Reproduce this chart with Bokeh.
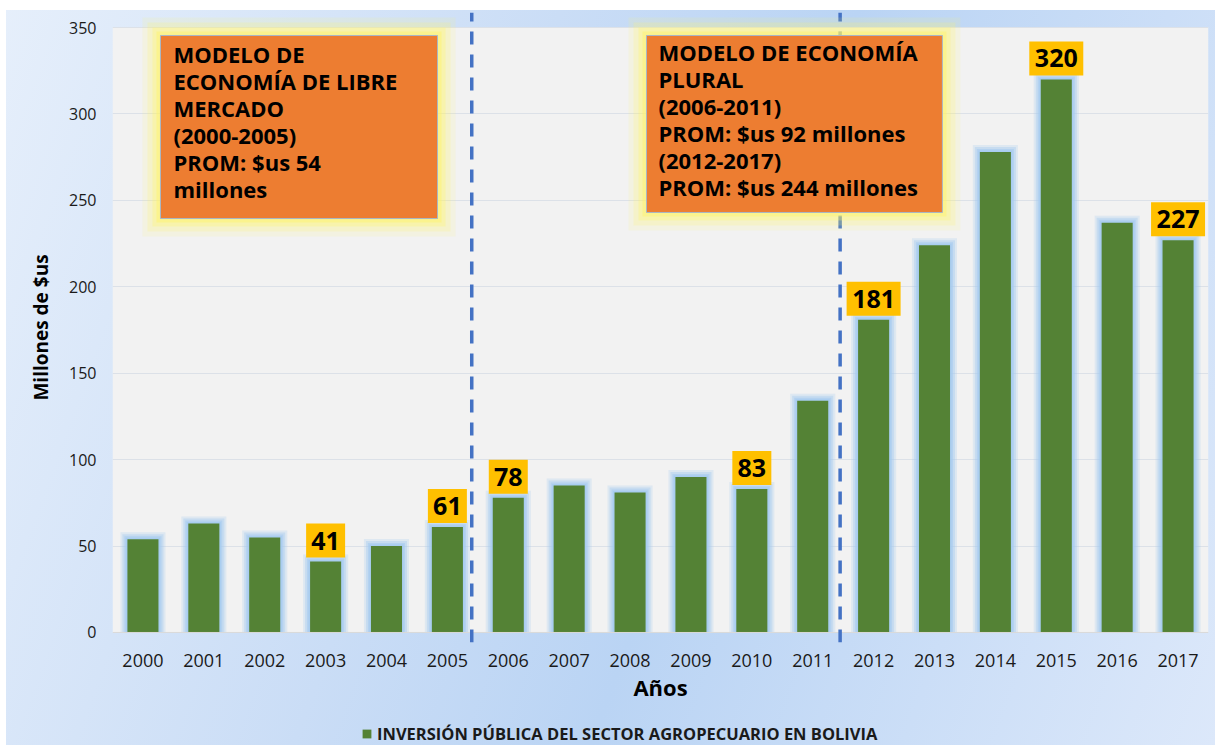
from bokeh.plotting import figure
from bokeh.layouts import column
from bokeh.models import FixedTicker, Range1d, Legend, LegendItem
from bokeh.core.properties import value
from bokeh.embed import file_html
from bokeh.resources import INLINE

years = [2000, 2001, 2002, 2003, 2004, 2005, 2006, 2007, 2008, 2009,
         2010, 2011, 2012, 2013, 2014, 2015, 2016, 2017]
values = [54, 63, 55, 41, 50, 61, 78, 85, 81, 90,
          83, 134, 181, 224, 278, 320, 237, 227]
labeled_years = [2003, 2005, 2006, 2010, 2012, 2015, 2017]
y_ticks = [0, 50, 100, 150, 200, 250, 300, 350]
series_name = "INVERSIÓN PÚBLICA DEL SECTOR AGROPECUARIO EN BOLIVIA"
box_left_lines = ["MODELO DE", "ECONOMÍA DE LIBRE", "MERCADO", " (2000-2005)",
                  "PROM: $us  54", "millones"]
box_right_lines = ["MODELO DE ECONOMÍA", "PLURAL", "(2006-2011)",
                   "PROM: $us 92 millones", "(2012-2017)", "PROM: $us 244 millones"]

FONT = "Open Sans"
GREEN = "#548235"
W, H, HL = 1215, 715, 30
ML, MR, MT, MB = 112, 7, 12, 73
X0, X1 = -0.5, 17.5
Y0, Y1 = -5.8, 358.7
PX_X = (W - ML - MR) / (X1 - X0)
PX_Y = (H - MT - MB) / (Y1 - Y0)

xs = list(range(len(years)))

p = figure(width=W, height=H, output_backend="svg", toolbar_location=None,
           x_range=Range1d(X0, X1), y_range=Range1d(Y0, Y1),
           min_border_left=ML, min_border_right=MR, min_border_top=MT,
           min_border_bottom=MB)
p.border_fill_alpha = 0
p.background_fill_alpha = 0
p.outline_line_color = None

# plot area
p.quad(left=X0, right=X1, bottom=0, top=350, fill_color="#F2F2F2",
       line_color=None, level="image")

# bar glow
for e, a in [(7, 0.25), (5, 0.4), (3, 0.55), (1.5, 0.7)]:
    p.vbar(x=xs, top=[v + e / PX_Y for v in values], bottom=0,
           width=0.51 + 2 * e / PX_X, fill_color="#A4CBF0", fill_alpha=a,
           line_color=None)
bars = p.vbar(x=xs, top=values, bottom=0, width=0.51, fill_color=GREEN,
              line_color=None)

# baseline
p.segment(x0=[X0], x1=[X1], y0=[0], y1=[0], line_color="#D9D9D9", line_width=1)

# dashed separators
p.segment(x0=[5.4, 11.45], x1=[5.4, 11.45], y0=[Y0, Y0], y1=[Y1, Y1],
          line_color="#4472C4", line_width=3.5, line_dash="13 10")

# value labels
lx = [years.index(yv) for yv in labeled_years]
lv = [values[i] for i in lx]
lw = [9 + 15 * len(str(v)) for v in lv]
ly = [v + 21 / PX_Y for v in lv]
p.rect(x=lx, y=ly, width=lw, height=34, width_units="screen", height_units="screen",
       fill_color="#FFC000", line_color=None)
p.text(x=lx, y=ly, text=[str(v) for v in lv], text_align="center",
       text_baseline="middle", text_font=value(FONT), text_font_style="bold",
       text_font_size="25px", text_color="#000000")

# annotation boxes
def box(x0, x1, y0, y1, lines, tx, ty0):
    cx, cy = (x0 + x1) / 2, (y0 + y1) / 2
    w, h = x1 - x0, y1 - y0
    for e, a in [(18, 0.12), (13, 0.2), (8, 0.3), (4, 0.45)]:
        p.rect(x=[cx], y=[cy], width=[w + 2 * e / PX_X], height=[h + 2 * e / PX_Y],
               fill_color="#FFF56A", fill_alpha=a, line_color=None)
    p.rect(x=[cx], y=[cy], width=[w], height=[h], fill_color="#ED7D31",
           line_color="#A9B7C6", line_width=1)
    p.text(x=[tx] * len(lines), y=[ty0 - i * 27 / PX_Y for i in range(len(lines))],
           text=lines, text_align="left", text_baseline="middle",
           text_font=value(FONT), text_font_style="bold", text_font_size="22px",
           text_color="#000000")

box(0.288, 4.838, 239.5, 345.4, box_left_lines, 0.502, 334.9)
box(8.27, 13.13, 243.0, 345.4, box_right_lines, 8.467, 336.1)

# axes
p.xgrid.grid_line_color = None
p.ygrid.ticker = FixedTicker(ticks=y_ticks[1:])
p.ygrid.grid_line_color = "#DCE1E8"
p.ygrid.grid_line_width = 1

p.xaxis.ticker = FixedTicker(ticks=xs)
p.xaxis.major_label_overrides = {i: str(y) for i, y in zip(xs, years)}
p.xaxis.axis_line_color = None
p.xaxis.major_tick_line_color = None
p.xaxis.minor_tick_line_color = None
p.xaxis.major_label_standoff = 5
p.xaxis.major_label_text_font = FONT
p.xaxis.major_label_text_font_size = "18px"
p.xaxis.major_label_text_color = "#1a1a1a"
p.xaxis.axis_label = "Años"
p.xaxis.axis_label_text_font = FONT
p.xaxis.axis_label_text_font_size = "22px"
p.xaxis.axis_label_text_font_style = "bold"
p.xaxis.axis_label_text_color = "#000000"
p.xaxis.axis_label_standoff = 2

p.yaxis.ticker = FixedTicker(ticks=y_ticks)
p.yaxis.axis_line_color = None
p.yaxis.major_tick_line_color = None
p.yaxis.minor_tick_line_color = None
p.yaxis.major_label_standoff = 10
p.yaxis.major_label_text_font = FONT
p.yaxis.major_label_text_font_size = "16px"
p.yaxis.major_label_text_color = "#1a1a1a"
p.yaxis.axis_label = "Millones de $us"
p.yaxis.axis_label_text_font = FONT
p.yaxis.axis_label_text_font_size = "19px"
p.yaxis.axis_label_text_font_style = "bold"
p.yaxis.axis_label_text_color = "#000000"
p.yaxis.axis_label_standoff = 12

# legend strip (separate small figure, frame aligned with the main one)
pl = figure(width=W, height=HL, output_backend="svg", toolbar_location=None,
            x_range=Range1d(0, 1), y_range=Range1d(0, 1),
            x_axis_type=None, y_axis_type=None, min_border=0)
pl.border_fill_alpha = 0
pl.background_fill_alpha = 0
pl.outline_line_color = None
pl.grid.visible = False
leg_r = pl.vbar(x=[0.5], top=[-1], bottom=[-2], width=0.5, fill_color=GREEN,
                line_color=None)
legend = Legend(items=[LegendItem(label=series_name, renderers=[leg_r])],
                location=(249, 0), orientation="horizontal",
                background_fill_alpha=0, border_line_color=None,
                label_text_font=FONT, label_text_font_style="bold",
                label_text_font_size="16.5px", label_text_color="#1a1a1a",
                glyph_width=11, glyph_height=11, padding=0, margin=0,
                label_standoff=5)
pl.add_layout(legend)

layout = column(p, pl, spacing=0)
layout.styles = {"background":
                 "linear-gradient(to bottom, #FFFFFF 0px, #FFFFFF 10px, transparent 10px), "
                 "linear-gradient(to right, #FFFFFF 0px, #FFFFFF 6px, transparent 6px), "
                 "linear-gradient(110deg, #E6EFFB 0%, #CADDF6 38%, #BAD4F4 58%, #DCE8FA 100%)"}

open("out.html", "w").write(file_html(layout, INLINE))
